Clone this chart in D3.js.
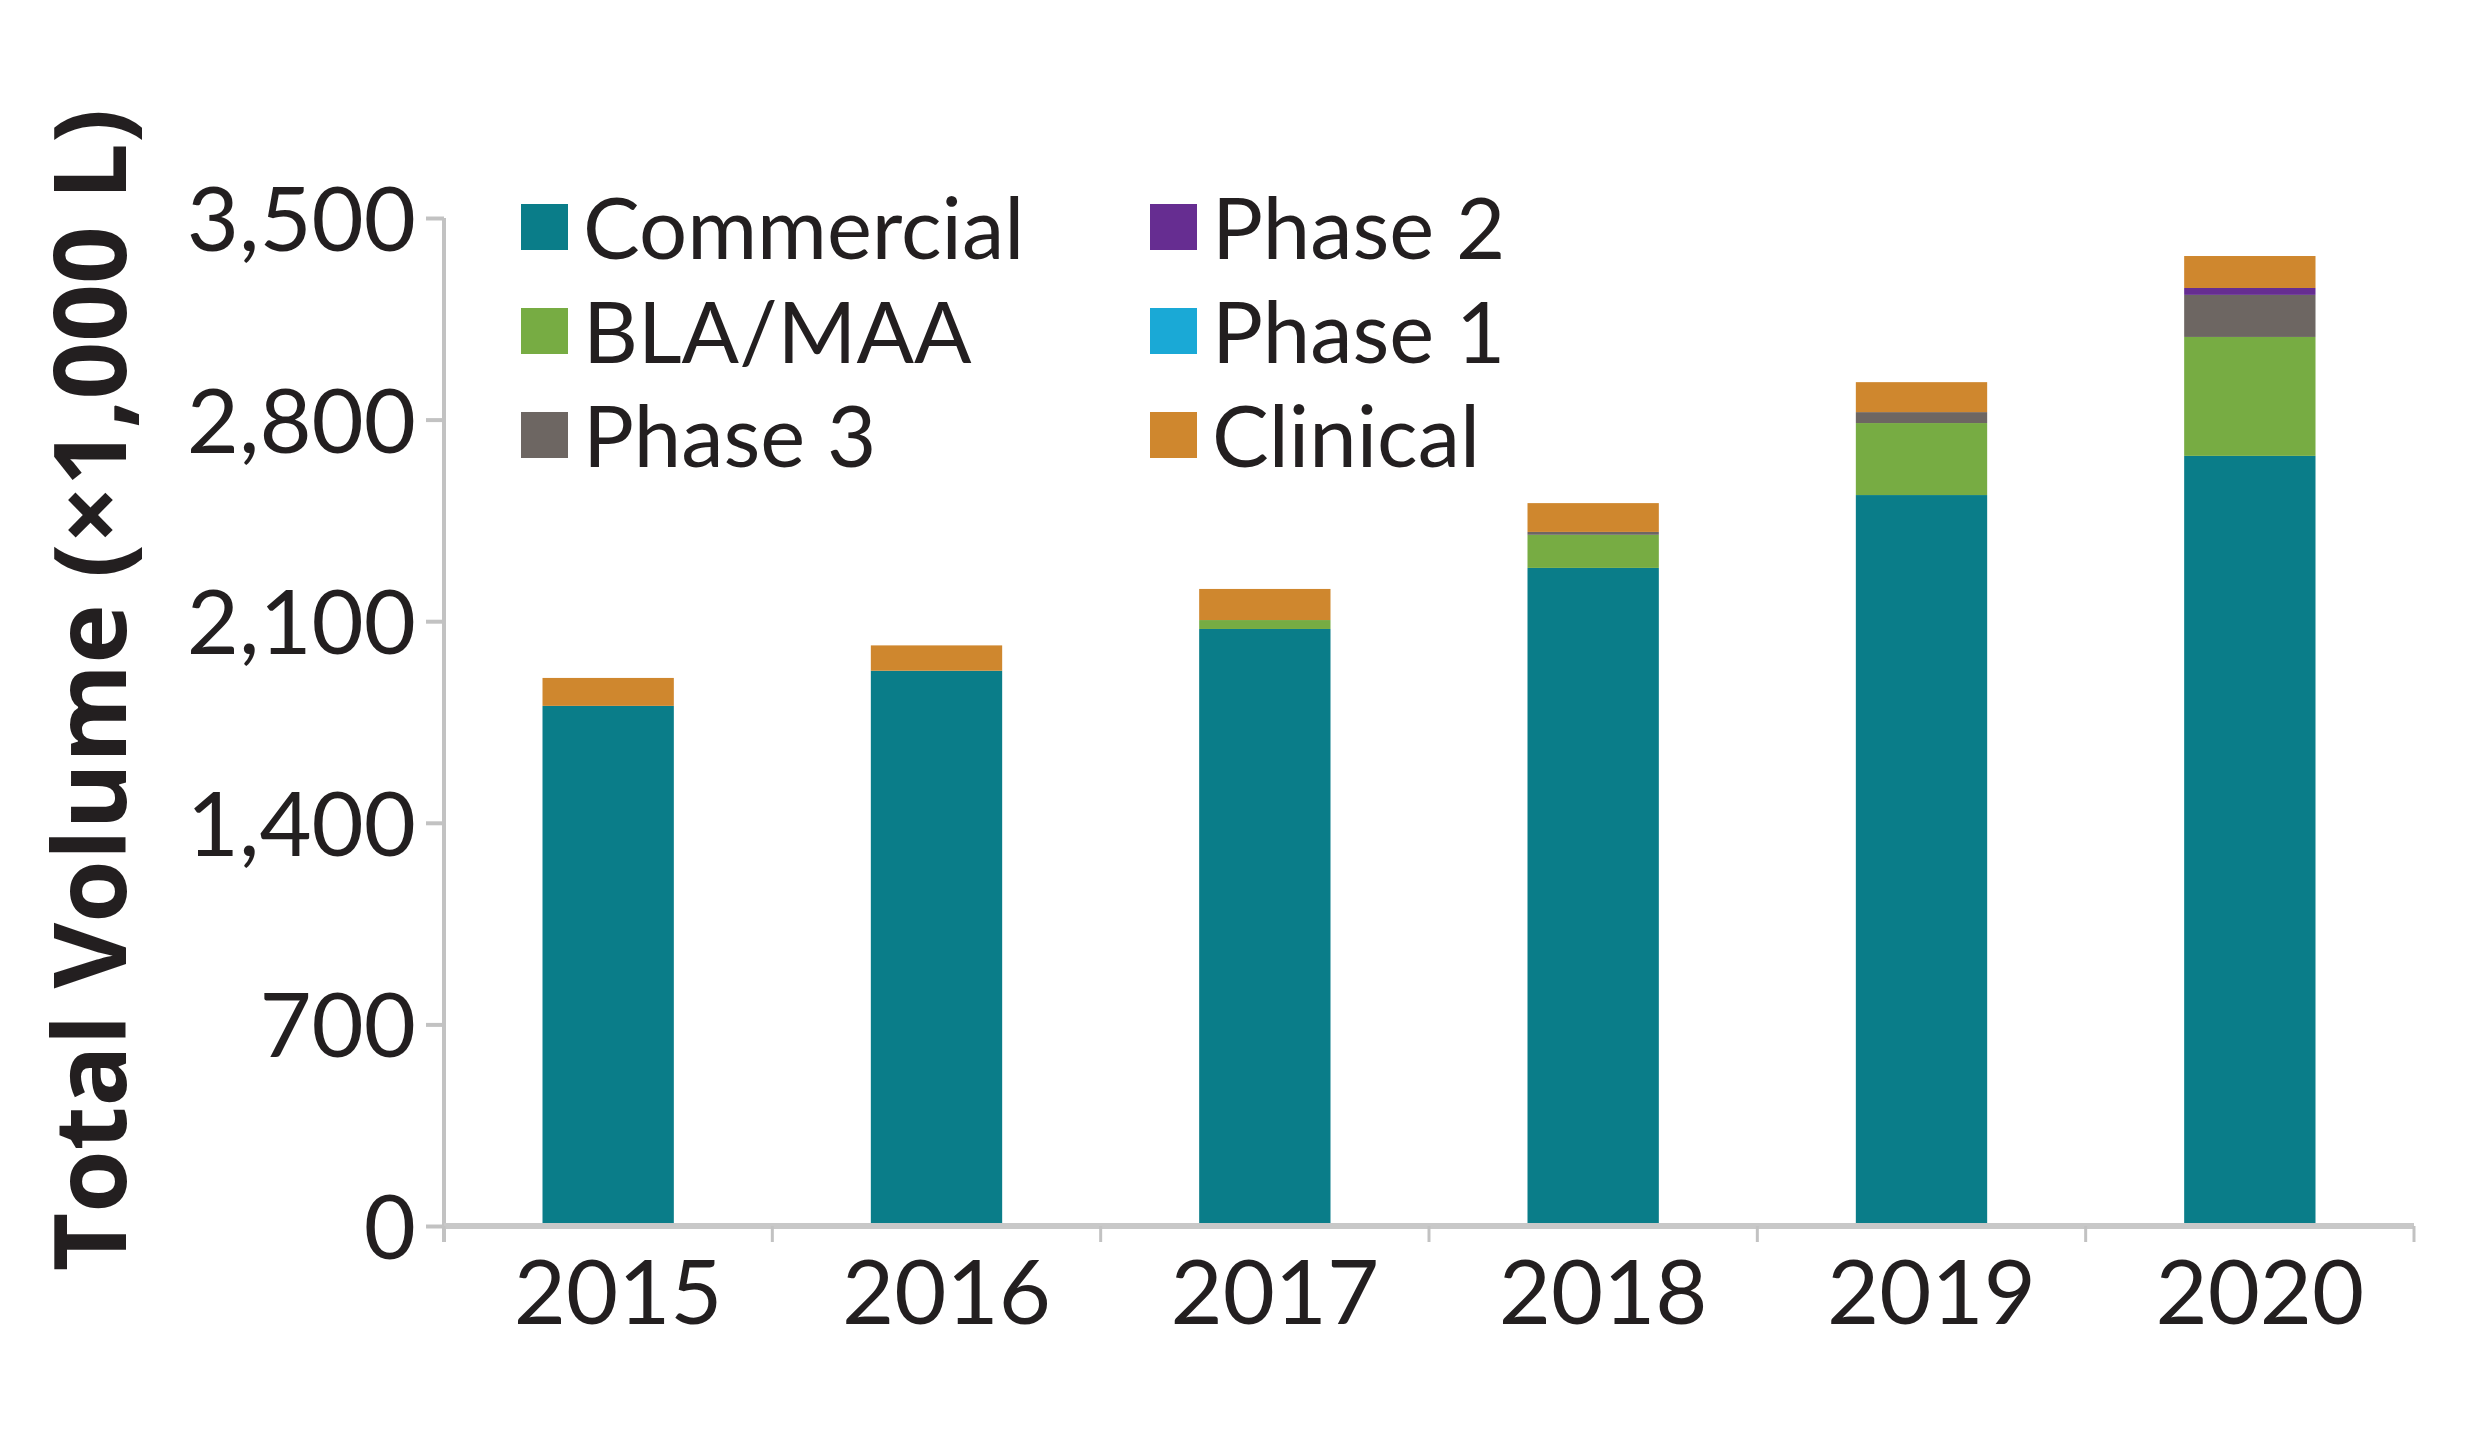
<!DOCTYPE html>
<html>
<head>
<meta charset="utf-8">
<script src="https://cdn.jsdelivr.net/npm/d3@7"></script>
<style>
  body { margin: 0; background: #fff; }
  text { font-family: Lato, "Open Sans", sans-serif; fill: #231f20; }
  .title { font-family: "Open Sans", "Noto Sans", sans-serif; }
</style>
</head>
<body>
<div id="chart-area"></div>
<script>
/*
*   stacked volume chart
*/

// data (x1,000 L)
var years      = ["2015", "2016", "2017", "2018", "2019", "2020"];
var commercial = [1806, 1928, 2073, 2285, 2538, 2674];
var blaMaa     = [0, 0, 31, 115, 250, 413];
var phase3     = [0, 0, 0, 10, 38, 146];
var phase2     = [0, 0, 0, 0, 0, 24];
var phase1     = [0, 0, 0, 0, 0, 0];
var clinical   = [97, 88, 108, 100, 104, 111];
var yTicks     = [0, 700, 1400, 2100, 2800, 3500];

var seriesNames  = ["Commercial", "BLA/MAA", "Phase 3", "Phase 2", "Phase 1", "Clinical"];
var seriesColors = ["#0a7d89", "#77ac43", "#6d6662", "#662d91", "#1aa9d6", "#cf872e"];
// legend is laid out in two columns
var legendCols = [["Commercial", "BLA/MAA", "Phase 3"], ["Phase 2", "Phase 1", "Clinical"]];

var rows = years.map(function(y, i) {
  return { year: y, "Commercial": commercial[i], "BLA/MAA": blaMaa[i], "Phase 3": phase3[i],
           "Phase 2": phase2[i], "Phase 1": phase1[i], "Clinical": clinical[i] };
});

/************* DEFINING STATIC VALUES***********************/
var W = 2475, H = 1436;
var axisLeft = 444, axisRight = 2414, axisBottom = 1226, axisTop = 218;

var svg = d3.select("#chart-area").append("svg")
    .attr("width", W)
    .attr("height", H);

var x = d3.scaleBand().domain(years).range([axisLeft, axisRight]).padding(0);
var y = d3.scaleLinear().domain([0, 3500]).range([axisBottom, axisTop]);
var colour = d3.scaleOrdinal().domain(seriesNames).range(seriesColors);

var barW = x.bandwidth() * 0.4;

var stacked = d3.stack().keys(seriesNames)(rows);

// bars
svg.append("g").selectAll("g")
  .data(stacked)
  .enter().append("g")
    .attr("fill", function(d) { return colour(d.key); })
  .selectAll("rect")
  .data(function(d) { return d; })
  .enter().append("rect")
    .attr("x", function(d) { return x(d.data.year) + (x.bandwidth() - barW) / 2; })
    .attr("width", barW)
    .attr("y", function(d) { return y(d[1]); })
    .attr("height", function(d) { return y(d[0]) - y(d[1]); });

// y axis
var yAxis = svg.append("g")
    .attr("transform", "translate(" + axisLeft + ",0)")
    .call(d3.axisLeft(y).tickValues(yTicks).tickFormat(d3.format(",")).tickSize(18).tickPadding(10));
yAxis.select(".domain").remove();
yAxis.selectAll("line").attr("stroke", "#c2c2c2").attr("stroke-width", 4);
yAxis.selectAll("text").attr("font-size", 90).attr("dy", "0.36em");
yAxis.append("line")
    .attr("x1", 0).attr("x2", 0)
    .attr("y1", axisTop).attr("y2", axisBottom + 16)
    .attr("stroke", "#c2c2c2").attr("stroke-width", 4);

// x axis
var xAxis = svg.append("g")
    .attr("transform", "translate(0," + axisBottom + ")")
    .call(d3.axisBottom(x).tickSize(0).tickPadding(34));
xAxis.select(".domain").remove();
xAxis.selectAll("text").attr("font-size", 90).attr("dy", "0.71em").attr("dx", 10);
xAxis.append("line")
    .attr("x1", axisLeft).attr("x2", axisRight)
    .attr("stroke", "#c8c8c8").attr("stroke-width", 6);
// tick marks sit on band edges
xAxis.selectAll(".edge")
  .data(years.concat(["end"]))
  .enter().append("line")
    .attr("class", "edge")
    .attr("x1", function(d) { return d === "end" ? axisRight : x(d); })
    .attr("x2", function(d) { return d === "end" ? axisRight : x(d); })
    .attr("y1", 0).attr("y2", 16)
    .attr("stroke", "#c2c2c2").attr("stroke-width", 3);

// y title
svg.append("text")
    .attr("class", "title")
    .attr("transform", "translate(126,690) rotate(-90)")
    .attr("text-anchor", "middle")
    .attr("font-size", 101)
    .attr("font-weight", 700)
    .text("Total Volume (\u00d71,000 L)");

// legend
var legend = svg.append("g");
legendCols.forEach(function(col, ci) {
  var lx = ci === 0 ? 521 : 1150;
  col.forEach(function(name, ri) {
    var ly = 204 + ri * 104;
    legend.append("rect")
        .attr("x", lx).attr("y", ly)
        .attr("width", 47).attr("height", 46)
        .attr("fill", colour(name));
    legend.append("text")
        .attr("x", lx + 62).attr("y", ly + 55)
        .attr("font-size", 85)
        .text(name);
  });
});
</script>
</body>
</html>
